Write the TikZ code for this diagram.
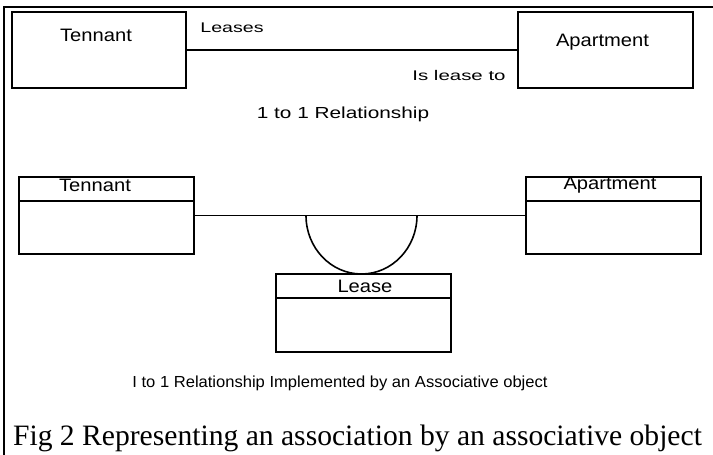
\documentclass[tikz,border=0pt]{standalone}
\usepackage{fontspec}
\setmainfont{Liberation Serif}
\newfontfamily\diagfont{Liberation Sans}
\begin{document}
\begin{tikzpicture}[x=1pt,y=-1pt,
  box/.style={draw, line width=1.6pt, inner sep=0pt, minimum width=175pt},
  link/.style={line width=1.6pt},
  frame/.style={line width=2.4pt},
  title/.style={font=\diagfont\fontsize{18}{18}\selectfont, inner sep=0pt, xscale=1.12, transform shape},
  rolelabel/.style={font=\diagfont\fontsize{14}{14}\selectfont, inner sep=0pt, xscale=1.4, transform shape},
  note/.style={font=\diagfont\fontsize{16}{16}\selectfont, inner sep=0pt, transform shape},
  figcaption/.style={font=\fontsize{29.6}{29.6}\selectfont, inner sep=0pt}]
\useasboundingbox (0,0) rectangle (713,455);

% page frame
\draw[frame] (4,455) -- (4,7) -- (713,7);

% --- 1 to 1 relationship ---
\node[box, minimum width=174pt, minimum height=76pt] (ten1) at (99,50) {};
\node[box, minimum height=76pt] (apt1) at (605.5,50) {};
\node[title] (ten1t) at (96,35) {Tennant};
\node[title] (apt1t) at (602.5,42) {Apartment};
\draw[link] (ten1.east) -- (apt1.west);
\node[rolelabel] (leases) at (232,28) {Leases};
\node[rolelabel, xscale=1.46/1.4] (isleaseto) at (459,75) {Is lease to};
\node[note, xscale=1.3] (rel1) at (343,114) {1 to 1 Relationship};

% --- associative object ---
\node[box, minimum height=77pt] (ten2) at (106.5,215.5) {};
\node[box, minimum height=77pt] (apt2) at (613.5,215.5) {};
\node[box, minimum height=78pt] (lease) at (363.5,313) {};
\draw[link] ([yshift=-25pt]ten2.north west) -- ([yshift=-25pt]ten2.north east);
\draw[link] ([yshift=-25pt]apt2.north west) -- ([yshift=-25pt]apt2.north east);
\draw[link] ([yshift=-25pt]lease.north west) -- ([yshift=-25pt]lease.north east);
\node[title] (ten2t) at (95,185) {Tennant};
\node[title] (apt2t) at (610,185) {Apartment};
\node[title] (leaset) at (365,286) {Lease};
\draw[link] (ten2.east) -- (apt2.west);
\coordinate (arcstart) at (306,215.5);
\draw[link] (arcstart) arc[start angle=180, end angle=360, x radius=55.5pt, y radius=58.5pt];
\node[note, xscale=1.035] (rel2) at (340,383) {I to 1 Relationship Implemented by an Associative object};

\node[figcaption, anchor=base] (fig) at (357.5,445) {Fig 2 Representing an association by an associative object};
\end{tikzpicture}
\end{document}
